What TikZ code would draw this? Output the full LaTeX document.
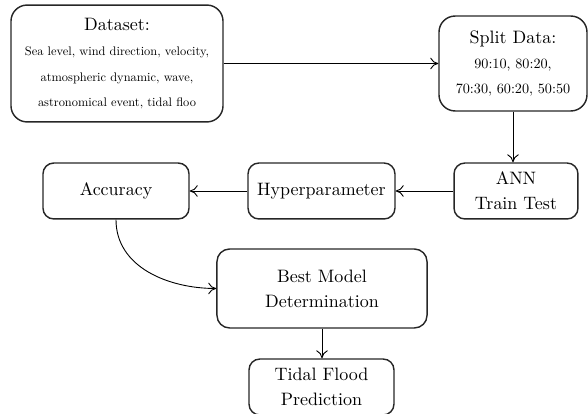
\documentclass[tikz,border=0pt]{standalone}
\usepackage{graphicx}
\usetikzlibrary{positioning, arrows.meta}

\newcommand{\tinyline}[1]{\scalebox{0.69}{#1}}
\newcommand{\smallline}[1]{\scalebox{0.79}{#1}}

\begin{document}
\begin{tikzpicture}[
    x=0.556pt, y=-0.556pt,
    font=\fontsize{10}{14}\selectfont,
    box/.style={rectangle, rounded corners=#1, draw=black!85, thick,
        align=center, inner sep=2pt},
    box/.default=6pt,
    flow/.style={-{Computer Modern Rightarrow[length=4.5pt, width=6.5pt]},
        line width=0.5pt},
]
\useasboundingbox (0,0) rectangle (588,414);

% ---- Top row ----
\node[box=9pt, minimum width=117.9pt, minimum height=65pt] (data) at (117,63.5)
    {Dataset:\\
     \tinyline{Sea level, wind direction, velocity,}\\
     \tinyline{atmospheric dynamic, wave,}\\
     \tinyline{astronomical event, tidal floo}};
\node[box=9pt, minimum width=82.3pt, minimum height=52.8pt] (split) at (513,63.5)
    {Split Data:\\
     \smallline{90:10, 80:20,}\\
     \smallline{70:30, 60:20, 50:50}};

% ---- Middle row ----
\node[box, minimum width=68.9pt, minimum height=31.1pt] (ann) at (516,191)
    {ANN\\Train Test};
\node[box, minimum width=81.7pt, minimum height=31.1pt] (hyper) at (321.5,191)
    {Hyperparameter};
\node[box, minimum width=81.2pt, minimum height=31.1pt] (acc) at (116,191)
    {Accuracy};

% ---- Bottom ----
\node[box=7pt, minimum width=116.8pt, minimum height=43.9pt] (best) at (322,288.5)
    {Best Model\\Determination};
\node[box, minimum width=80.6pt, minimum height=31.1pt] (tidal) at (321.5,387)
    {Tidal Flood\\Prediction};

% ---- Arrows ----
\draw[flow] (data.east) -- (split.west);
\draw[flow] (split.south) -- (split.south |- ann.north);
\draw[flow] (ann.west) -- (hyper.east);
\draw[flow] (hyper.west) -- (acc.east);
\draw[flow] (acc.south) to[out=-90, in=180] (best.west);
\draw[flow] (best.south) -- (best.south |- tidal.north);

\end{tikzpicture}
\end{document}
